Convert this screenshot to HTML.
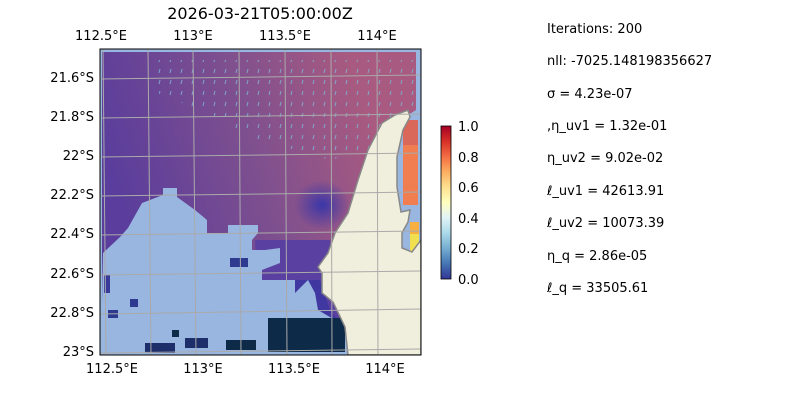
<!DOCTYPE html>
<html><head><meta charset="utf-8"><style>
body{margin:0;background:#fff;}
svg text{font-family:"DejaVu Sans","Liberation Sans",sans-serif;}
</style></head><body>
<svg width="800" height="400" xmlns="http://www.w3.org/2000/svg">
<defs>
<linearGradient id="pg" x1="0" y1="0.3" x2="1" y2="0">
<stop offset="0" stop-color="#5a3d9c"/><stop offset="0.45" stop-color="#80508e"/><stop offset="0.8" stop-color="#a85a80"/><stop offset="1" stop-color="#a85a80"/>
</linearGradient>
<radialGradient id="dk" cx="0.5" cy="0.5" r="0.5">
<stop offset="0" stop-color="#3a36a8"/><stop offset="1" stop-color="#3a36a8" stop-opacity="0"/>
</radialGradient>
<linearGradient id="cb" x1="0" y1="1" x2="0" y2="0">
<stop offset="0" stop-color="#313695"/><stop offset="0.1" stop-color="#4575b4"/><stop offset="0.2" stop-color="#74add1"/><stop offset="0.3" stop-color="#abd9e9"/><stop offset="0.4" stop-color="#e0f3f8"/><stop offset="0.5" stop-color="#ffffbf"/><stop offset="0.6" stop-color="#fee090"/><stop offset="0.7" stop-color="#fdae61"/><stop offset="0.8" stop-color="#f46d43"/><stop offset="0.9" stop-color="#d73027"/><stop offset="1" stop-color="#a50026"/>
</linearGradient>
<pattern id="arr" width="11" height="11" patternUnits="userSpaceOnUse">
<line x1="5" y1="7" x2="6" y2="3" stroke="#7fb8d8" stroke-width="1"/>
</pattern>
<clipPath id="c"><rect x="100" y="49" width="321" height="306"/></clipPath>
</defs>
<text x="260" y="19" font-size="16" text-anchor="middle">2026-03-21T05:00:00Z</text>
<g clip-path="url(#c)">
<rect x="100" y="49" width="321" height="306" fill="#98b6e0"/>
<polygon points="102,52 416,52 416,110 400,120 360,200 340,250 330,300 345,330 340,355 102,355" fill="url(#pg)"/>
<polygon points="150,60 416,60 416,110 395,120 370,150 330,160 260,140 200,110 150,90" fill="url(#arr)" opacity="0.8"/>
<ellipse cx="322" cy="205" rx="28" ry="25" fill="url(#dk)"/>
<polygon points="255,240 330,240 335,300 345,330 345,355 260,355" fill="#5a40a0"/>
<polygon points="260,280 320,280 330,310 345,330 345,355 265,355" fill="#4038a0"/>
<polygon points="103,253 120,237 128,228 142,203 163,195 163,188 177,188 177,197 195,210 207,220 207,233 228,233 228,225 258,225 258,233 252,240 252,250 265,250 280,248 280,263 262,270 262,280 295,280 295,293 308,280 315,293 318,310 335,320 348,355 101,355" fill="#98b6e0"/>
<rect x="268" y="318" width="77" height="34" fill="#0d2b48"/>
<rect x="230" y="258" width="18" height="9" fill="#2e3a90"/>
<rect x="130" y="299" width="8" height="8" fill="#2e3a90"/>
<rect x="108" y="310" width="10" height="8" fill="#2e3a90"/>
<rect x="104" y="275" width="6" height="18" fill="#3a3a9a"/>
<rect x="172" y="330" width="7" height="7" fill="#0d2b48"/>
<rect x="145" y="343" width="30" height="10" fill="#1e2e6a"/>
<rect x="185" y="338" width="23" height="10" fill="#1e2e6a"/>
<rect x="226" y="340" width="30" height="10" fill="#0d2b48"/>
<rect x="403" y="120" width="15" height="25" fill="#d9685a"/>
<rect x="403" y="145" width="15" height="60" fill="#f07e50"/>
<rect x="410" y="222" width="9" height="12" fill="#f7b040"/>
<rect x="410" y="234" width="9" height="18" fill="#f0e050"/>
<polygon points="348,355 345,327 333,302 322,293 322,273 318,267 328,253 335,233 348,213 358,180 368,150 382,123 395,115 408,110 410,117 403,130 397,157 397,187 401,212 410,210 408,222 402,233 402,248 412,252 421,240 421,355" fill="#f0eedc" stroke="#888" stroke-width="1.5"/>
<g stroke="#aaa" stroke-width="1" fill="none">
<line x1="103" y1="49" x2="106" y2="355"/>
<line x1="148" y1="49" x2="151" y2="355"/>
<line x1="193" y1="49" x2="196" y2="355"/>
<line x1="239" y1="49" x2="241" y2="355"/>
<line x1="285" y1="49" x2="287" y2="355"/>
<line x1="331" y1="49" x2="332" y2="355"/>
<line x1="377" y1="49" x2="378" y2="355"/>
<line x1="100" y1="79" x2="421" y2="75"/>
<line x1="100" y1="118" x2="421" y2="114"/>
<line x1="100" y1="157" x2="421" y2="153"/>
<line x1="100" y1="196" x2="421" y2="192"/>
<line x1="100" y1="235" x2="421" y2="231"/>
<line x1="100" y1="275" x2="421" y2="271"/>
<line x1="100" y1="314" x2="421" y2="309"/>
<line x1="100" y1="353" x2="421" y2="349"/>
</g>
</g>
<rect x="100" y="49" width="321" height="306" fill="none" stroke="#000" stroke-width="1"/>
<g font-size="13" text-anchor="middle">
<text x="101" y="40">112.5°E</text><text x="193" y="40">113°E</text><text x="285" y="40">113.5°E</text><text x="377" y="40">114°E</text>
<text x="112" y="373">112.5°E</text><text x="203" y="373">113°E</text><text x="294" y="373">113.5°E</text><text x="385" y="373">114°E</text>
</g>
<g font-size="13" text-anchor="end">
<text x="94" y="82">21.6°S</text><text x="94" y="121">21.8°S</text><text x="94" y="160">22°S</text><text x="94" y="199">22.2°S</text><text x="94" y="238">22.4°S</text><text x="94" y="278">22.6°S</text><text x="94" y="317">22.8°S</text><text x="94" y="356">23°S</text>
</g>
<rect x="441" y="126" width="10" height="153" fill="url(#cb)" stroke="#000" stroke-width="0.8"/>
<g font-size="13">
<text x="458" y="131">1.0</text><text x="458" y="162">0.8</text><text x="458" y="192">0.6</text><text x="458" y="223">0.4</text><text x="458" y="253">0.2</text><text x="458" y="284">0.0</text>
</g>
<g font-size="13">
<text x="547" y="33">Iterations: 200</text>
<text x="547" y="65">nll: -7025.148198356627</text>
<text x="547" y="98">σ = 4.23e-07</text>
<text x="547" y="130">,η_uv1 = 1.32e-01</text>
<text x="547" y="162">η_uv2 = 9.02e-02</text>
<text x="547" y="195">ℓ_uv1 = 42613.91</text>
<text x="547" y="227">ℓ_uv2 = 10073.39</text>
<text x="547" y="260">η_q = 2.86e-05</text>
<text x="547" y="292">ℓ_q = 33505.61</text>
</g>
</svg>
</body></html>
